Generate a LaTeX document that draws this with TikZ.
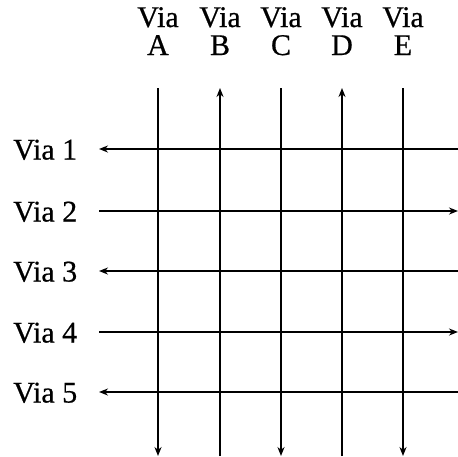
\documentclass[tikz,border=0pt]{standalone}
\usepackage{fontspec}
\setmainfont{Liberation Serif}[FakeBold=0.6]
\usetikzlibrary{arrows.meta}
\begin{document}
\begin{tikzpicture}[x=1pt,y=-1pt,
  lbl/.style={inner sep=0pt,font=\fontsize{30}{30}\selectfont},
  road/.style={line width=1.6pt,black},
  tip/.style={-{Stealth[length=9pt,width=7pt]}}]
\useasboundingbox (0,0) rectangle (458,456);
% column labels
\foreach \n/\x in {A/158,B/220,C/281,D/342,E/403}{
  \node[lbl,anchor=base] (top\n) at (\x,27) {Via};
  \node[lbl,anchor=base] (let\n) at (\x,55) {\n};
  \coordinate (t\n) at (\x,88);
  \coordinate (b\n) at (\x,456);
}
% row labels
\foreach \i/\y in {1/149,2/211,3/271,4/332,5/392}{
  \node[lbl,anchor=base west] (row\i) at (13,\y+10.5) {Via \i};
  \coordinate (l\i) at (99,\y);
  \coordinate (r\i) at (458,\y);
}
% vertical roads
\draw[road,tip] (tA) -- (bA);
\draw[road,tip] (bB) -- (tB);
\draw[road,tip] (tC) -- (bC);
\draw[road,tip] (bD) -- (tD);
\draw[road,tip] (tE) -- (bE);
% horizontal roads
\draw[road,tip] (r1) -- (l1);
\draw[road,tip] (l2) -- (r2);
\draw[road,tip] (r3) -- (l3);
\draw[road,tip] (l4) -- (r4);
\draw[road,tip] (r5) -- (l5);
\end{tikzpicture}
\end{document}
